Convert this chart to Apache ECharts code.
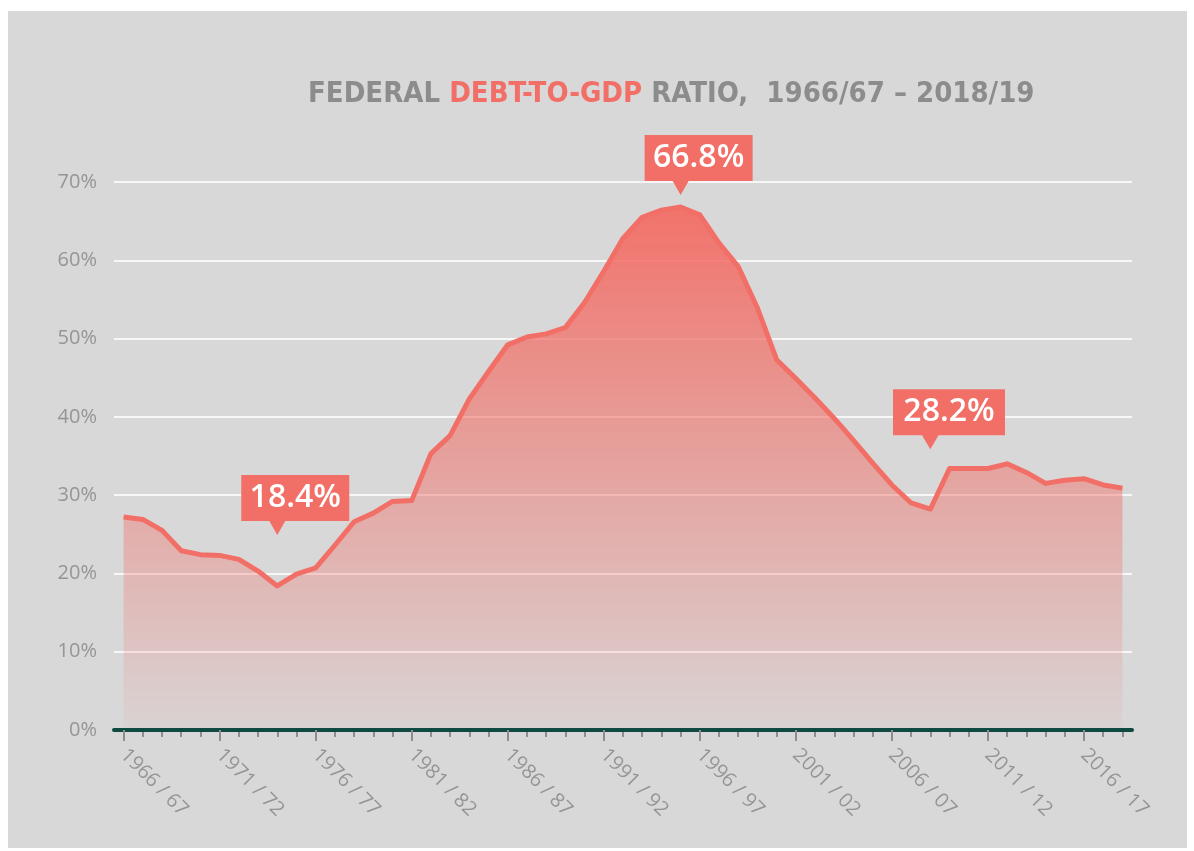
<!DOCTYPE html>
<html>
<head>
<meta charset="utf-8">
<script src="https://cdn.jsdelivr.net/npm/echarts@6/dist/echarts.min.js"></script>
<style>
  html, body { margin: 0; padding: 0; background: #ffffff; width: 1194px; height: 851px; overflow: hidden; }
  #panel { position: absolute; left: 8px; top: 11px; width: 1179px; height: 837px; background: #d8d8d8; }
  #chart { position: absolute; left: 0; top: 0; width: 1194px; height: 851px; }
</style>
</head>
<body>
<div id="panel"></div>
<div id="chart"></div>
<script>
const categories = [
  '1966 / 67','1967 / 68','1968 / 69','1969 / 70','1970 / 71','1971 / 72','1972 / 73','1973 / 74','1974 / 75','1975 / 76',
  '1976 / 77','1977 / 78','1978 / 79','1979 / 80','1980 / 81','1981 / 82','1982 / 83','1983 / 84','1984 / 85','1985 / 86',
  '1986 / 87','1987 / 88','1988 / 89','1989 / 90','1990 / 91','1991 / 92','1992 / 93','1993 / 94','1994 / 95','1995 / 96',
  '1996 / 97','1997 / 98','1998 / 99','1999 / 00','2000 / 01','2001 / 02','2002 / 03','2003 / 04','2004 / 05','2005 / 06',
  '2006 / 07','2007 / 08','2008 / 09','2009 / 10','2010 / 11','2011 / 12','2012 / 13','2013 / 14','2014 / 15','2015 / 16',
  '2016 / 17','2017 / 18','2018 / 19'
];
const debtToGdp = [
  27.2, 26.9, 25.5, 22.9, 22.4, 22.3, 21.8, 20.3, 18.4, 19.9,
  20.7, 23.6, 26.6, 27.7, 29.2, 29.3, 35.3, 37.6, 42.3, 45.8,
  49.2, 50.2, 50.6, 51.4, 54.6, 58.6, 62.8, 65.5, 66.4, 66.8,
  65.8, 62.2, 59.2, 53.9, 47.3, 44.9, 42.4, 39.8, 37.0, 34.1,
  31.3, 29.0, 28.2, 33.4, 33.4, 33.4, 34.0, 32.9, 31.5, 31.9,
  32.1, 31.3, 30.9
];
const yTicks = [0, 10, 20, 30, 40, 50, 60, 70];
const calloutIndex = [8, 29, 42];

const RED = '#f26f67';
const GREY = '#959595';
const calloutGap = [51, 12, 60];
const calloutWidth = [108, 108, 112];
const TITLE_FONT = '"Liberation Sans Narrow", "DejaVu Sans Condensed", Roboto, sans-serif';

const chart = echarts.init(document.getElementById('chart'));
chart.setOption({
  backgroundColor: 'transparent',
  animation: false,
  title: {
    left: 303,
    top: 75,
    text: '{g|FEDERAL }{r|DEBT-TO-GDP}{g| RATIO,  1966/67 – 2018/19}',
    textStyle: {
      rich: {
        g: { color: '#8c8c8c', fontSize: 29, fontWeight: 'bold', fontFamily: TITLE_FONT },
        r: { color: RED, fontSize: 29, fontWeight: 'bold', fontFamily: TITLE_FONT }
      }
    }
  },
  grid: { left: 114, right: 62, top: 182, bottom: 121, containLabel: false },
  xAxis: [
    {
      type: 'category',
      data: categories,
      boundaryGap: true,
      axisLine: { show: true, lineStyle: { color: '#0e4942', width: 4 } },
      axisTick: { show: true, interval: 4, alignWithLabel: true, length: 11, lineStyle: { color: '#8e8e8e', width: 2 } },
      axisLabel: {
        interval: 4, rotate: -45, margin: 22,
        color: GREY, fontSize: 20, fontFamily: '"Open Sans", sans-serif'
      },
      splitLine: { show: false },
      z: 5
    },
    {
      type: 'category',
      data: categories,
      boundaryGap: true,
      position: 'bottom',
      axisLine: { show: false },
      axisTick: { show: true, interval: 0, alignWithLabel: true, length: 7, lineStyle: { color: '#8e8e8e', width: 2 } },
      axisLabel: { show: false },
      splitLine: { show: false },
      z: 4
    }
  ],
  yAxis: {
    type: 'value',
    min: yTicks[0],
    max: yTicks[yTicks.length - 1],
    interval: 10,
    axisLine: { show: false },
    axisTick: { show: false },
    axisLabel: {
      formatter: '{value}%', margin: 17,
      color: GREY, fontSize: 20, fontFamily: '"Open Sans", sans-serif'
    },
    splitLine: { show: true, lineStyle: { color: '#f7f7f7', width: 2 } }
  },
  series: [{
    type: 'line',
    xAxisIndex: 0,
    data: debtToGdp,
    symbol: 'none',
    z: 3,
    lineStyle: { color: RED, width: 5, join: 'round' },
    areaStyle: {
      opacity: 1,
      color: new echarts.graphic.LinearGradient(0, 0, 0, 1, [
        { offset: 0, color: 'rgba(242,111,103,0.97)' },
        { offset: 1, color: 'rgba(242,111,103,0.04)' }
      ])
    },
    markPoint: {
      silent: true,
      symbol: 'path://M0,0 L108,0 L108,46 L44,46 L36,60 L28,46 L0,46 Z',
      itemStyle: { color: RED },
      label: {
        show: true, position: 'inside', offset: [0, -7],
        formatter: p => p.value.toFixed(1) + '%',
        color: '#ffffff', fontSize: 32, fontWeight: 600, fontFamily: '"Open Sans", sans-serif'
      },
      data: calloutIndex.map((idx, k) => ({
        coord: [idx, debtToGdp[idx]],
        value: debtToGdp[idx],
        symbolSize: [calloutWidth[k], 60],
        symbolOffset: [18 * calloutWidth[k] / 108, -(calloutGap[k] + 30)]
      }))
    }
  }]
});
</script>
</body>
</html>
